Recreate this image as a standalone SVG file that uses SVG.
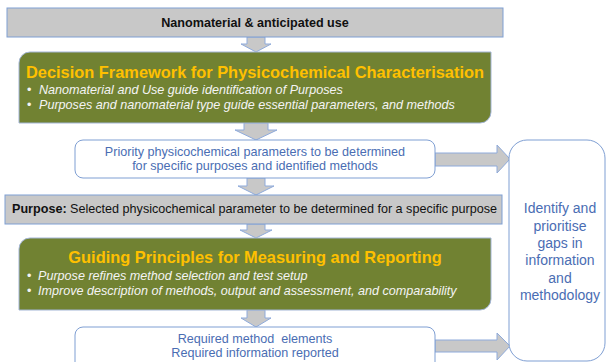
<svg xmlns="http://www.w3.org/2000/svg" width="606" height="362" viewBox="0 0 606 362">
  <style>
    .grey { fill: #c8c8c8; stroke: #7f9fd3; stroke-width: 1; }
    .green { fill: #718232; stroke: #a3b5d6; stroke-width: 1; }
    .white { fill: #ffffff; stroke: #7f9fd3; stroke-width: 1; }
    .arrow { fill: #c8c8c8; stroke: #8eaadb; stroke-width: 1; stroke-linejoin: miter; }
    text { font-family: "Liberation Sans", Arial, sans-serif; }
    .dark { fill: #111111; font-size: 12.6px; }
    .bold { font-weight: bold; }
    .title { fill: #ffc000; font-size: 16.4px; font-weight: bold; }
    .bullet { fill: #f4f4f4; font-size: 12.6px; font-style: italic; }
    .dot { fill: #f4f4f4; font-size: 12.6px; }
    .blue { fill: #4a6db3; font-size: 12.6px; }
    .side { fill: #4a6db3; font-size: 14px; }
  </style>

  <!-- connectors: block arrows between the stages and towards the gap box -->
  <g id="connectors">
    <path class="arrow" d="M247,37 H265 V44 H271 L256,52 L241,44 H247 Z"/>
    <path class="arrow" d="M244,123 H268 V130 H277 L256,140 L235,130 H244 Z"/>
    <path class="arrow" d="M247,178 H265 V186 H274 L256,195 L238,186 H247 Z"/>
    <path class="arrow" d="M247,224 H265 V230 H272 L256,238 L240,230 H247 Z"/>
    <path class="arrow" d="M247,310 H265 V318 H271 L256,327 L241,318 H247 Z"/>
    <path class="arrow" d="M435,153 H497 V145 L510,159 L497,173 V166 H435 Z"/>
    <path class="arrow" d="M435,340 H497 V333 L510,346 L497,360 V352 H435 Z"/>
  </g>

  <g id="input">
    <rect class="grey" x="7" y="8" width="496" height="29"/>
    <text class="dark bold" x="255" y="27" text-anchor="middle">Nanomaterial &amp; anticipated use</text>
  </g>

  <g id="decision-framework">
    <path class="green" d="M30,52 H491 V112 A11,11 0 0 1 480,123 H19 V63 A11,11 0 0 1 30,52 Z"/>
    <text class="title" x="26" y="78" textLength="458" lengthAdjust="spacingAndGlyphs">Decision Framework for Physicochemical Characterisation</text>
    <text class="dot" x="27" y="94">•</text>
    <text class="bullet" x="39" y="94">Nanomaterial and Use guide identification of Purposes</text>
    <text class="dot" x="27" y="109">•</text>
    <text class="bullet" x="39" y="109">Purposes and nanomaterial type guide essential parameters, and methods</text>
  </g>

  <g id="priority-parameters">
    <rect class="white" x="75" y="140" width="360" height="38" rx="8"/>
    <text class="blue" x="255" y="156" text-anchor="middle">Priority physicochemical parameters to be determined</text>
    <text class="blue" x="255" y="170" text-anchor="middle">for specific purposes and identified methods</text>
  </g>

  <g id="purpose">
    <rect class="grey" x="5" y="195" width="497" height="29"/>
    <text class="dark" x="12" y="213"><tspan class="bold">Purpose:</tspan> Selected physicochemical parameter to be determined for a specific purpose</text>
  </g>

  <g id="guiding-principles">
    <path class="green" d="M30,238 H491 V299 A11,11 0 0 1 480,310 H19 V249 A11,11 0 0 1 30,238 Z"/>
    <text class="title" x="255" y="263" text-anchor="middle">Guiding Principles for Measuring and Reporting</text>
    <text class="dot" x="27" y="280">•</text>
    <text class="bullet" x="38" y="280">Purpose refines method selection and test setup</text>
    <text class="dot" x="27" y="295">•</text>
    <text class="bullet" x="38" y="295">Improve description of methods, output and assessment, and comparability</text>
  </g>

  <g id="requirements">
    <rect class="white" x="75" y="327" width="360" height="50" rx="8"/>
    <text class="blue" x="255" y="343" text-anchor="middle" xml:space="preserve">Required method  elements</text>
    <text class="blue" x="255" y="357" text-anchor="middle">Required information reported</text>
  </g>

  <g id="gaps">
    <rect class="white" x="509" y="140" width="96" height="221" rx="18"/>
    <text class="side" x="560" y="213" text-anchor="middle">Identify and</text>
    <text class="side" x="560" y="231" text-anchor="middle">prioritise</text>
    <text class="side" x="560" y="248" text-anchor="middle">gaps in</text>
    <text class="side" x="560" y="265" text-anchor="middle">information</text>
    <text class="side" x="560" y="283" text-anchor="middle">and</text>
    <text class="side" x="560" y="300" text-anchor="middle">methodology</text>
  </g>
</svg>
